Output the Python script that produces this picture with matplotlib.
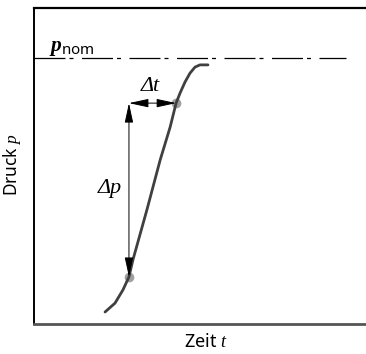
import numpy as np
import matplotlib
matplotlib.use("Agg")
import matplotlib.pyplot as plt
from matplotlib.patches import FancyArrowPatch

plt.rcParams['font.family'] = ['Noto Sans', 'DejaVu Sans']
plt.rcParams['mathtext.fontset'] = 'custom'
plt.rcParams['mathtext.rm'] = 'Noto Sans'
plt.rcParams['mathtext.it'] = 'Liberation Serif:italic'
plt.rcParams['mathtext.bf'] = 'Liberation Serif:italic:bold'

# pressure rise curve (time, pressure), arbitrary units 0..100
t_curve = [21.4, 24.4, 26.8, 28.6, 29.8, 34.0, 38.0, 41.0, 42.8, 44.0, 45.5, 47.0, 48.5, 50.0, 52.4]
p_curve = [3.8, 6.6, 10.8, 14.9, 20.3, 36.1, 51.9, 62.3, 69.9, 73.1, 76.6, 79.4, 81.3, 82.0, 82.0]

p_nom = 84.2
t_nom_end = 94.0

# the two marked points
t_pts = [28.6, 42.8]
p_pts = [14.9, 69.9]

fig = plt.figure(figsize=(3.66, 3.54), dpi=100)
ax = fig.add_axes([34 / 366, 30 / 354, 332 / 366, 316 / 354])
ax.set_xlim(0, 100)
ax.set_ylim(0, 100)
ax.set_xticks([])
ax.set_yticks([])
ax.spines['right'].set_visible(False)
ax.spines['top'].set_linewidth(1.6)
ax.spines['left'].set_linewidth(1.4)
ax.spines['bottom'].set_linewidth(2.0)
ax.spines['bottom'].set_color('#555555')

# nominal pressure line
nom, = ax.plot([0, t_nom_end], [p_nom, p_nom], color='black', lw=0.9)
nom.set_dashes([31 * 0.72 / 0.9, 4 * 0.72 / 0.9, 4 * 0.72 / 0.9, 8.5 * 0.72 / 0.9])

ax.plot(t_pts, p_pts, 'o', color='#a0a0a0', ms=7, mec='none', zorder=1)
ax.plot(t_curve, p_curve, color='#404040', lw=2.0, solid_capstyle='round',
        solid_joinstyle='round', zorder=2)

style = '<|-|>,head_length=12,head_width=2.6'
va = FancyArrowPatch((t_pts[0], p_pts[0]), (t_pts[0], p_pts[1]), arrowstyle=style,
                     mutation_scale=1, shrinkA=0, shrinkB=0, color='black', lw=0.7, zorder=3)
ha = FancyArrowPatch((t_pts[0], p_pts[1]), (t_pts[1], p_pts[1]), arrowstyle=style,
                     mutation_scale=1, shrinkA=0, shrinkB=0, color='black', lw=0.7, zorder=3)
ax.add_patch(va)
ax.add_patch(ha)

ax.text(34.9, 75.3, 'Δt', family='Liberation Serif', style='italic', fontsize=16,
        ha='center', va='center')
ax.text(22.9, 42.9, 'Δp', family='Liberation Serif', style='italic', fontsize=16,
        ha='center', va='center')
ax.text(4.5, 86.5, r'$\mathbf{p}_{\mathrm{nom}}$', fontsize=15.5, ha='left', va='baseline')

ax.set_xlabel(r'Zeit $t$', fontsize=13)
ax.xaxis.set_label_coords(0.518, -0.03)
ax.set_ylabel(r'Druck $p$', fontsize=12.5)
ax.yaxis.set_label_coords(-0.034, 0.503)

fig.savefig('out.png', dpi=100)
